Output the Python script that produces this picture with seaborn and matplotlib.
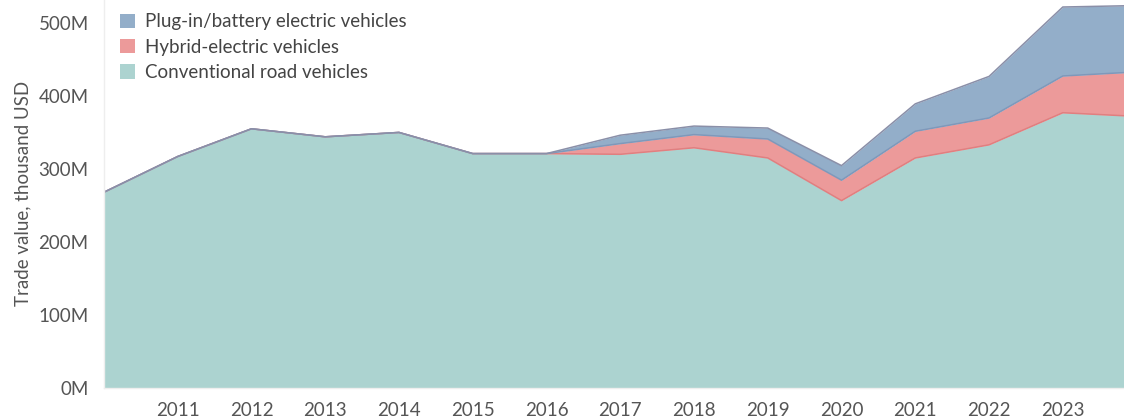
import numpy as np
import matplotlib
matplotlib.use("Agg")
import matplotlib.pyplot as plt
import matplotlib.ticker as mticker
from matplotlib.patches import Patch
import seaborn as sns

years = [2010, 2011, 2012, 2013, 2014, 2015, 2016, 2017, 2018, 2019, 2020, 2021, 2022, 2023, 2024]
# million USD (axis shows thousand USD with M suffix)
conventional = [268, 317, 355, 344, 350, 321, 321, 320, 329, 315, 256.5, 315, 333, 377, 372]
hybrid = [0, 0, 0, 0, 0, 0, 0, 14.7, 18, 26, 28, 36.6, 36.8, 50.4, 61]
plugin = [0, 0, 0, 0, 0, 0, 0, 11.5, 11.7, 15, 20, 37.6, 57, 94.6, 91]

labels = ["Conventional road vehicles", "Hybrid-electric vehicles", "Plug-in/battery electric vehicles"]
fills = ["#acd3d0", "#ec9a9a", "#93aec9"]
edges = ["#e07f80", "#7f98ba", "#8a8fa8"]

sns.set_theme(style="white")
plt.rcParams["font.family"] = ["Lato", "DejaVu Sans"]
txt = "#555555"

fig = plt.figure(figsize=(11.24, 4.2), dpi=100)
ax = fig.add_axes([0.0925, 0.077, 0.9075, 0.923])

ax.stackplot(years, conventional, hybrid, plugin, colors=fills, linewidth=0)
tops = np.cumsum([conventional, hybrid, plugin], axis=0)
for top, ec in zip(tops, edges):
    ax.plot(years, top, color=ec, lw=1.1)

ax.set_xlim(2010, 2023.83)
ax.set_ylim(0, 531.6)
ax.set_xticks(range(2011, 2024))
ax.yaxis.set_major_locator(mticker.MultipleLocator(100))
ax.yaxis.set_major_formatter(mticker.FuncFormatter(lambda v, p: f"{int(v)}M"))

for s in ["top", "right"]:
    ax.spines[s].set_visible(False)
for s in ["left", "bottom"]:
    ax.spines[s].set_color("#eeeeee")
    ax.spines[s].set_linewidth(1)

ax.tick_params(axis="both", colors="#e6e6e6", labelcolor=txt, labelsize=13.5, length=5, width=1, direction="out")
ax.tick_params(axis="x", pad=5)
ax.tick_params(axis="y", pad=6)
ax.set_ylabel("Trade value, thousand USD", color=txt, fontsize=13.5, labelpad=5)

handles = [Patch(facecolor=c, edgecolor="none") for c in fills]
leg = ax.legend(handles[::-1], labels[::-1], loc="upper left", bbox_to_anchor=(0.005, 0.995),
                frameon=False, fontsize=13.5, handlelength=0.8, handleheight=0.8,
                handletextpad=0.5, labelspacing=0.45, borderaxespad=0.2)
for t in leg.get_texts():
    t.set_color("#444444")

fig.savefig("out.png", dpi=100)
